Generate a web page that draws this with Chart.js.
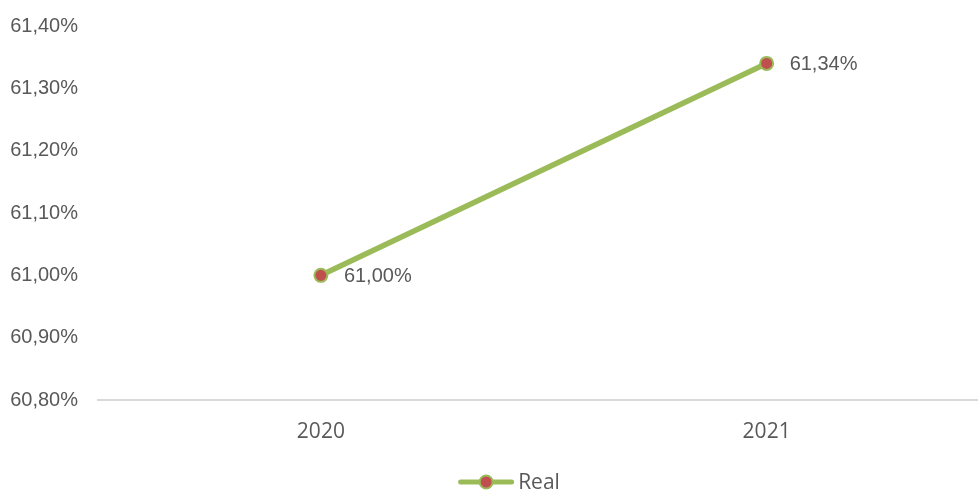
<!DOCTYPE html>
<html>
<head>
<meta charset="utf-8">
<script src="https://cdn.jsdelivr.net/npm/chart.js@4"></script>
<style>
  html, body { margin: 0; padding: 0; background: #fff; overflow: hidden; }
  #wrap { width: 978px; height: 491px; overflow: hidden; }
</style>
</head>
<body>
<!-- the plot runs slightly past the right edge, so the canvas is wider than the frame -->
<div id="wrap"><canvas id="myChart" width="998" height="491"></canvas></div>
<script>
// yearly ratio, in percent
const years = ['2020', '2021'];
const realValues = [61.00, 61.34];
const seriesName = 'Real';

const yMin = 60.8;
const yMax = 61.4;
const yStep = 0.1;

const lineColor = '#9BBB59';
const dotColor = '#C0504D';
const textColor = '#595959';
const numFont = '"Liberation Sans", Arial, sans-serif';
const catFont = '"Open Sans", sans-serif';

function pct(v, digits) {
  return v.toFixed(digits).replace('.', ',') + '%';
}

// value labels to the right of each point
const valueLabels = {
  id: 'valueLabels',
  afterDatasetsDraw(chart) {
    const ctx = chart.ctx;
    const meta = chart.getDatasetMeta(0);
    ctx.save();
    ctx.font = '20px ' + numFont;
    ctx.fillStyle = textColor;
    ctx.textAlign = 'left';
    ctx.textBaseline = 'middle';
    meta.data.forEach((pt, i) => {
      ctx.fillText(pct(realValues[i], 2), pt.x + 23, pt.y + 1);
    });
    ctx.restore();
  }
};

// legend under the axis: short line with a dot, then the series name
const lineLegend = {
  id: 'lineLegend',
  afterDraw(chart) {
    const ctx = chart.ctx;
    const ds = chart.data.datasets[0];
    ctx.save();
    ctx.font = '21px ' + catFont;
    const textW = ctx.measureText(ds.label).width;
    const lineW = 56;
    const gap = 4;
    const total = lineW + gap + textW;
    const x0 = chart.width / 2 + 10 - total / 2;
    const y = chart.chartArea.bottom + 82;

    ctx.strokeStyle = ds.borderColor;
    ctx.lineWidth = 5;
    ctx.lineCap = 'round';
    ctx.beginPath();
    ctx.moveTo(x0 + 2.5, y);
    ctx.lineTo(x0 + lineW - 2.5, y);
    ctx.stroke();

    ctx.beginPath();
    ctx.arc(x0 + lineW / 2, y, ds.pointRadius, 0, Math.PI * 2);
    ctx.fillStyle = ds.pointBackgroundColor;
    ctx.fill();
    ctx.lineWidth = ds.pointBorderWidth;
    ctx.strokeStyle = ds.pointBorderColor;
    ctx.stroke();

    ctx.fillStyle = textColor;
    ctx.textAlign = 'left';
    ctx.textBaseline = 'middle';
    ctx.fillText(ds.label, x0 + lineW + gap, y + 1);
    ctx.restore();
  }
};

const ctx = document.getElementById('myChart').getContext('2d');
const chart = new Chart(ctx, {
  type: 'line',
  data: {
    labels: years,
    datasets: [{
      label: seriesName,
      data: realValues,
      borderColor: lineColor,
      borderWidth: 5.5,
      pointRadius: 6.5,
      pointBorderWidth: 2,
      pointBackgroundColor: dotColor,
      pointBorderColor: lineColor,
      tension: 0
    }]
  },
  options: {
    responsive: false,
    animation: false,
    layout: { padding: { top: 26, right: 0, bottom: 0, left: 0 } },
    plugins: {
      tooltip: { enabled: false },
      legend: { display: false }
    },
    scales: {
      x: {
        offset: true,
        grid: { display: false, drawTicks: false },
        border: { display: true, color: '#D9D9D9', width: 2 },
        ticks: {
          color: textColor,
          font: { family: catFont, size: 21 },
          padding: 19
        },
        afterFit(scale) { scale.height = 91; }
      },
      y: {
        min: yMin,
        max: yMax,
        grid: { display: false, drawTicks: false },
        border: { display: false },
        ticks: {
          stepSize: yStep,
          color: textColor,
          padding: 20,
          font: { family: numFont, size: 20 },
          callback: (v) => pct(v, 2)
        },
        afterFit(scale) {
          scale.width = 98;
          scale.paddingTop = 0;
          scale.paddingBottom = 0;
        }
      }
    }
  },
  plugins: [valueLabels, lineLegend]
});
</script>
</body>
</html>
